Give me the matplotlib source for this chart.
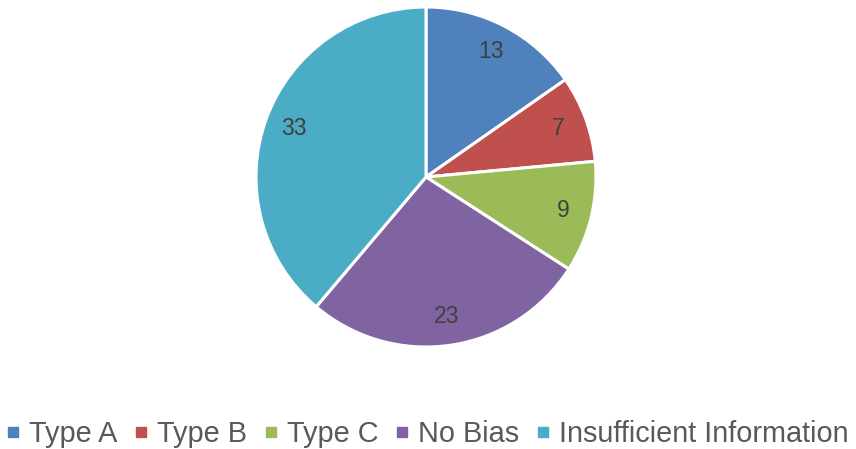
import matplotlib.pyplot as plt
from matplotlib.lines import Line2D

categories = ['Type A', 'Type B', 'Type C', 'No Bias', 'Insufficient Information']
counts = [13, 7, 9, 23, 33]
colors = ['#4F81BD', '#C0504D', '#9BBB59', '#8064A2', '#4BACC6']

plt.rcParams['font.family'] = ['Liberation Sans', 'DejaVu Sans']

fig = plt.figure(figsize=(8.56, 4.49), dpi=100)
W, H = 856, 449
cx, cy, r = 426, 177, 170
ax = fig.add_axes([(cx - r) / W, (H - cy - r) / H, 2 * r / W, 2 * r / H])

total = sum(counts)
ax.pie(counts, colors=colors, startangle=90, counterclock=False,
       radius=1.0,
       wedgeprops=dict(edgecolor='white', linewidth=2.2),
       autopct=lambda p: f'{round(p * total / 100):d}',
       pctdistance=0.83,
       textprops=dict(color='#404040', fontsize=16.5))
ax.set_xlim(-1, 1)
ax.set_ylim(-1, 1)
ax.set_aspect('equal')

handles = [Line2D([0], [0], marker='s', linestyle='none', markersize=7,
                  markerfacecolor=c, markeredgecolor=c) for c in colors]
fig.legend(handles, categories, loc='center', bbox_to_anchor=(0.5, (H - 434) / H),
           ncol=5, frameon=False, fontsize=20.8, handlelength=0.4,
           handletextpad=0.35, columnspacing=0.62, labelcolor='#595959')

fig.savefig('out.png', dpi=100)
